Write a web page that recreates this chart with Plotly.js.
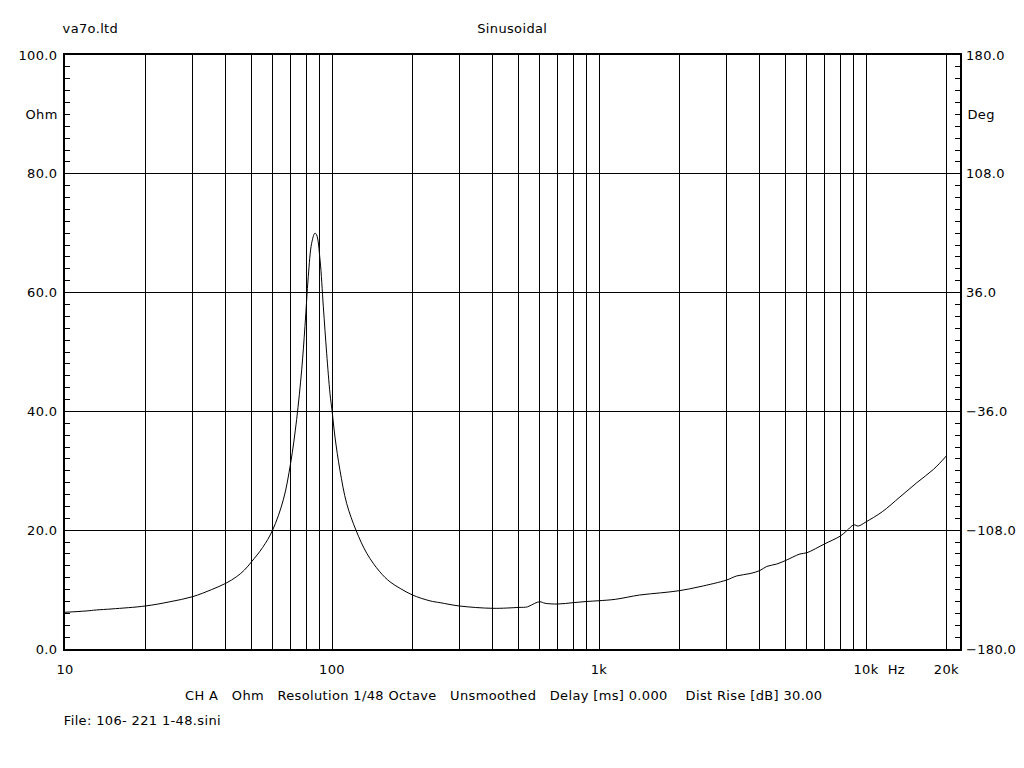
<!DOCTYPE html>
<html>
<head>
<meta charset="utf-8">
<script src="https://cdn.plot.ly/plotly-3.0.1.min.js"></script>
<style>html,body{margin:0;padding:0;background:#fff;}#chart{width:1024px;height:768px;}#chart text{letter-spacing:0.35px;}</style>
</head>
<body>
<div id="chart"></div>
<script>
// Impedance curve (Hz, Ohm)
const freqHz = [10, 12, 13.1, 15, 20, 24.7, 30, 35.4, 40, 44, 47, 50, 55, 59.9, 65.7, 70, 73.7, 77, 79.2, 81.5, 83.9, 86.3, 87.6, 90.2, 92.8, 95.5, 98.3, 100, 102.6, 107.1, 113.5, 123, 135, 151, 165, 180, 200, 233, 254, 300, 400, 500, 540, 575, 600, 628, 700, 800, 900, 1000, 1150, 1420, 1700, 2000, 2390, 3000, 3280, 3680, 4000, 4250, 4630, 5000, 5660, 6000, 7000, 8000, 8470, 9000, 9350, 10000, 11500, 13400, 15500, 17900, 20000];
const ohm    = [6.18, 6.4, 6.57, 6.75, 7.24, 7.95, 8.8, 10.0, 11.06, 12.2, 13.3, 14.7, 17.1, 20.0, 25.1, 31.3, 38.6, 47.0, 54.3, 62.7, 68.3, 70.0, 69.7, 65.5, 57.6, 49.8, 43.0, 40.2, 35.7, 30.1, 24.5, 20.0, 16.1, 13.0, 11.3, 10.2, 9.1, 8.1, 7.8, 7.24, 6.85, 7.0, 7.1, 7.7, 7.96, 7.7, 7.57, 7.8, 8.0, 8.13, 8.36, 9.09, 9.45, 9.82, 10.5, 11.6, 12.3, 12.7, 13.2, 13.9, 14.3, 14.9, 16.0, 16.2, 17.7, 19.0, 19.9, 20.9, 20.7, 21.4, 23.1, 25.6, 28.0, 30.25, 32.5];

// X grid lines and labels
const xGridVals = [10,20,30,40,50,60,70,80,90,100,200,300,400,500,600,700,800,900,1000,2000,3000,4000,5000,6000,7000,8000,9000,10000,20000];
const xLabelMap = {10:"10", 100:"100", 1000:"1k", 10000:"10k", 20000:"20k"};
const xGridText = xGridVals.map(v => xLabelMap[v] || "");

// Axis ticks
const leftTickVals = [0, 20, 40, 60, 80, 100];
const rightTickVals = [-180, -108, -36, 36, 108, 180];

const FONT = "DejaVu Sans, Verdana, sans-serif";
const FS = 13;

// pixel helpers for annotation placement (plot area 65..960 x, 55..649 y)
const PL = 65, PR = 960, PT = 55, PB = 649;
const px = x => (x - PL) / (PR - PL);
const py = y => (PB - y) / (PB - PT);

const trace = {
  x: freqHz, y: ohm, type: 'scatter', mode: 'lines',
  line: {color: '#000', width: 1, shape: 'spline', smoothing: 1},
  hoverinfo: 'skip', showlegend: false
};
const dummy = {x: [10], y: [0], yaxis: 'y2', type: 'scatter', mode: 'markers',
  marker: {opacity: 0}, hoverinfo: 'skip', showlegend: false};

const layout = {
  width: 1024, height: 768,
  margin: {l: PL, r: 1024 - PR, t: PT, b: 768 - PB, pad: 0},
  paper_bgcolor: '#fff', plot_bgcolor: '#fff',
  font: {family: FONT, size: FS, color: '#000'},
  showlegend: false,
  xaxis: {
    type: 'log', range: [1, 1 + (PR - PL) / 267],
    tickmode: 'array', tickvals: xGridVals, ticktext: xGridText,
    showgrid: true, gridcolor: '#000', gridwidth: 1,
    showline: true, mirror: true, linecolor: '#000', linewidth: 2,
    ticks: '', zeroline: false, ticklabelstandoff: 7,
    tickfont: {family: FONT, size: FS, color: '#000'}
  },
  yaxis: {
    range: [0, 100], tickmode: 'array', tickvals: leftTickVals, tickformat: '.1f',
    showgrid: true, gridcolor: '#000', gridwidth: 1,
    showline: true, mirror: true, linecolor: '#000', linewidth: 2,
    ticks: 'inside', ticklen: 5, tickcolor: '#000', zeroline: false,
    ticklabelstandoff: 3,
    minor: {dtick: 2, ticks: 'inside', ticklen: 5, tickcolor: '#000', showgrid: false},
    tickfont: {family: FONT, size: FS, color: '#000'}
  },
  yaxis2: {
    overlaying: 'y', side: 'right', anchor: 'x',
    range: [-180, 180], tickmode: 'array', tickvals: rightTickVals, tickformat: '.1f',
    showgrid: false, showline: false, zeroline: false,
    ticks: 'inside', ticklen: 5, tickcolor: '#000', ticklabelstandoff: 5,
    minor: {tick0: -180, dtick: 7.2, ticks: 'inside', ticklen: 5, tickcolor: '#000', showgrid: false},
    tickfont: {family: FONT, size: FS, color: '#000'}
  },
  annotations: [
    {text: 'va7o.ltd', xref: 'paper', yref: 'paper', x: px(90), y: py(28), showarrow: false, xanchor: 'center', yanchor: 'middle'},
    {text: 'Sinusoidal', xref: 'paper', yref: 'paper', x: px(512), y: py(28), showarrow: false, xanchor: 'center', yanchor: 'middle'},
    {text: 'Ohm', xref: 'paper', yref: 'paper', x: px(59), y: py(114), showarrow: false, xanchor: 'right', yanchor: 'middle'},
    {text: 'Deg', xref: 'paper', yref: 'paper', x: px(966), y: py(114), showarrow: false, xanchor: 'left', yanchor: 'middle'},
    {text: 'Hz', xref: 'paper', yref: 'paper', x: px(886), y: py(670), showarrow: false, xanchor: 'left', yanchor: 'middle'},
    {text: 'CH A\u00a0\u00a0\u00a0Ohm\u00a0\u00a0\u00a0Resolution 1/48 Octave\u00a0\u00a0\u00a0Unsmoothed\u00a0\u00a0\u00a0Delay [ms] 0.000\u00a0\u00a0\u00a0\u00a0Dist Rise [dB] 30.00',
     xref: 'paper', yref: 'paper', x: px(199), y: py(695), showarrow: false, xanchor: 'left', yanchor: 'middle'},
    {text: 'File: 106- 221 1-48.sini', xref: 'paper', yref: 'paper', x: px(66), y: py(720), showarrow: false, xanchor: 'left', yanchor: 'middle'}
  ]
};

Plotly.newPlot('chart', [trace, dummy], layout, {staticPlot: true, displayModeBar: false});
</script>
</body>
</html>
